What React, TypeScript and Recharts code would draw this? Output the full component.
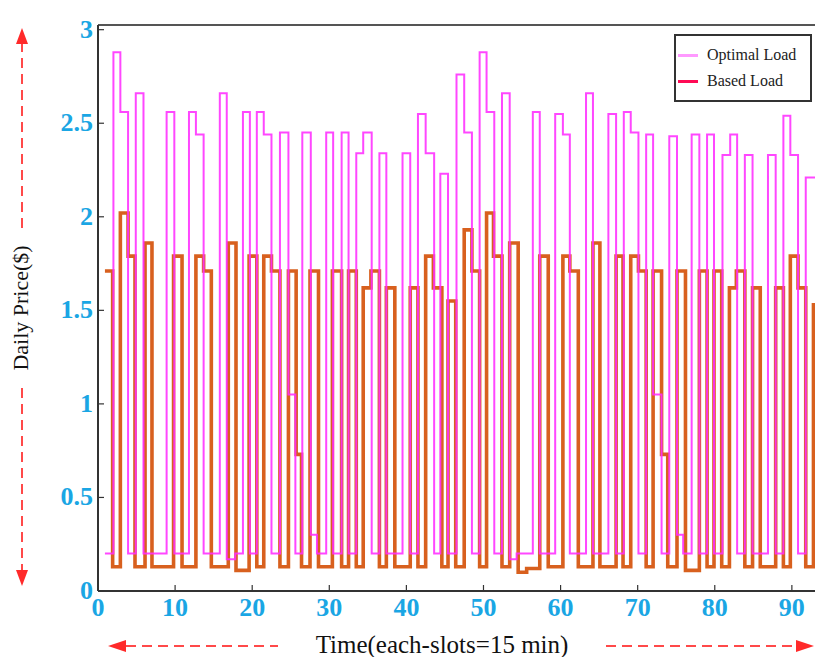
import React from "react";
import { LineChart, Line, XAxis, YAxis, ReferenceLine } from "recharts";

// step series: time slot where a level starts, and the level
const optimalTimes = [
  0.9, 2.0, 2.9, 3.9, 4.9, 5.9, 8.9, 9.9, 11.8, 12.7,
  13.7, 15.8, 16.7, 17.8, 18.8, 19.7, 20.6, 21.5, 22.5, 23.6,
  24.7, 25.6, 26.5, 27.6, 28.4, 29.6, 30.5, 31.6, 32.5, 33.5,
  34.4, 35.5, 36.5, 37.4, 39.5, 40.5, 41.5, 42.5, 43.6, 44.4,
  45.4, 46.5, 47.5, 48.5, 49.5, 50.4, 51.4, 52.4, 53.4, 54.3,
  56.4, 57.3, 59.3, 60.3, 61.2, 63.3, 64.2, 66.2, 67.2, 68.2,
  69.1, 70.1, 71.1, 72.0, 73.1, 74.1, 75.1, 75.9, 77.0, 78.0,
  79.0, 79.9, 81.0, 82.0, 82.9, 83.9, 84.9, 86.9, 87.9, 88.9,
  89.8, 90.8, 91.8, 93,
];
const optimalValues = [
  0.2, 2.88, 2.56, 0.2, 2.66, 0.2, 2.56, 0.2, 2.56, 2.44,
  0.2, 2.66, 0.17, 0.2, 2.56, 0.2, 2.56, 2.44, 0.2, 2.45,
  1.05, 0.2, 2.45, 0.3, 0.2, 2.45, 0.2, 2.45, 0.2, 2.34,
  2.45, 0.2, 2.34, 0.2, 2.34, 0.2, 2.55, 2.34, 0.2, 2.23,
  0.2, 2.76, 2.45, 0.2, 2.88, 2.56, 0.2, 2.66, 0.17, 0.2,
  2.56, 0.2, 2.55, 2.44, 0.2, 2.66, 0.2, 2.55, 0.2, 2.56,
  2.45, 0.2, 2.44, 1.05, 0.2, 2.43, 0.3, 0.2, 2.44, 0.2,
  2.44, 0.2, 2.33, 2.44, 0.2, 2.33, 0.2, 2.33, 0.2, 2.54,
  2.33, 0.2, 2.21, 2.21,
];

const basedTimes = [
  0.9, 1.9, 2.9, 3.9, 4.8, 6.1, 7.0, 9.8, 10.9, 12.7,
  13.7, 14.7, 16.9, 17.9, 19.6, 20.6, 21.5, 22.5, 23.6, 24.7,
  25.7, 26.4, 27.5, 28.6, 30.4, 31.6, 32.5, 33.5, 34.4, 35.4,
  36.5, 37.4, 38.5, 40.5, 41.5, 42.5, 43.5, 44.6, 45.4, 46.4,
  47.5, 48.5, 49.5, 50.4, 51.3, 52.4, 53.4, 54.5, 55.6, 57.3,
  58.4, 60.3, 61.2, 62.3, 64.2, 65.1, 67.2, 68.1, 69.1, 70.1,
  71.1, 72.0, 73.1, 73.9, 75.1, 76.2, 78.0, 79.0, 79.9, 80.9,
  81.9, 82.8, 83.9, 84.9, 85.9, 87.9, 88.9, 89.8, 90.8, 91.8,
  92.8, 93,
];
const basedValues = [
  1.71, 0.13, 2.02, 1.79, 0.13, 1.86, 0.13, 1.79, 0.13, 1.79,
  1.71, 0.13, 1.86, 0.11, 1.79, 0.13, 1.79, 1.71, 0.13, 1.71,
  0.73, 0.13, 1.71, 0.13, 1.71, 0.13, 1.71, 0.13, 1.62, 1.71,
  0.13, 1.62, 0.13, 1.62, 0.13, 1.79, 1.62, 0.13, 1.55, 0.13,
  1.93, 1.71, 0.13, 2.02, 1.79, 0.13, 1.86, 0.1, 0.12, 1.79,
  0.13, 1.79, 1.71, 0.13, 1.86, 0.13, 1.79, 0.13, 1.79, 1.71,
  0.13, 1.71, 0.73, 0.13, 1.71, 0.11, 1.71, 0.13, 1.71, 0.13,
  1.62, 1.71, 0.13, 1.62, 0.13, 1.62, 0.13, 1.79, 1.62, 0.13,
  1.53, 1.53,
];

const xTicks = [0, 10, 20, 30, 40, 50, 60, 70, 80, 90];
const yTicks = [0, 0.5, 1, 1.5, 2, 2.5, 3];

const optimalData = optimalTimes.map((t, i) => ({ t, v: optimalValues[i] }));
const basedData = basedTimes.map((t, i) => ({ t, v: basedValues[i] }));

const W = 815;
const H = 657;
const PLOT_LEFT = 98;
const PLOT_TOP = 25;
const PLOT_BOTTOM = 591;
const TICK_COLOR = "#1aa6e4";
const SERIF = "'Liberation Serif', 'DejaVu Serif', serif";

const OPTIMAL_COLOR = "#ff2eff";
const BASED_COLOR = "#d8601e";

function YTick({ y, payload }: any) {
  return (
    <g>
      <line x1={PLOT_LEFT} x2={PLOT_LEFT + 6} y1={y} y2={y} stroke="#333" strokeWidth={1.2} />
      <text x={93} y={y} dy={8} textAnchor="end" fill={TICK_COLOR} fontFamily={SERIF} fontWeight="bold" fontSize={26}>
        {payload.value}
      </text>
    </g>
  );
}

function XTick({ x, payload }: any) {
  return (
    <g>
      {payload.value !== 0 && <line x1={x} x2={x} y1={PLOT_BOTTOM} y2={PLOT_BOTTOM - 6} stroke="#333" strokeWidth={1.2} />}
      <text x={x} y={616} textAnchor="middle" fill={TICK_COLOR} fontFamily={SERIF} fontWeight="bold" fontSize={26}>
        {payload.value}
      </text>
    </g>
  );
}

function LegendBox() {
  const rows = [
    { label: "Optimal Load", color: "#ff99ff" },
    { label: "Based Load", color: "#ff0a55" },
  ];
  return (
    <div
      style={{
        position: "absolute",
        left: 674,
        top: 34,
        width: 138,
        border: "2px solid #333",
        background: "#fff",
        padding: "6px 0",
        boxSizing: "border-box",
      }}
    >
      {rows.map((r) => (
        <div key={r.label} style={{ display: "flex", alignItems: "center", height: 26 }}>
          <div style={{ width: 20, height: 3, background: r.color, marginLeft: 2, marginRight: 9 }} />
          <span style={{ fontFamily: SERIF, fontSize: 16, color: "#222" }}>{r.label}</span>
        </div>
      ))}
    </div>
  );
}

function Decorations() {
  const red = "#ff2a2a";
  const dash = "10 6";
  return (
    <svg width={W} height={H} style={{ position: "absolute", left: 0, top: 0, pointerEvents: "none" }}>
      <line x1={22} y1={42} x2={22} y2={228} stroke={red} strokeWidth={2} strokeDasharray={dash} opacity={0.85} />
      <polygon points="22,28 16,44 28,44" fill={red} />
      <line x1={22} y1={388} x2={22} y2={570} stroke={red} strokeWidth={2} strokeDasharray={dash} opacity={0.85} />
      <polygon points="22,586 16,570 28,570" fill={red} />
      <text x={28} y={308} transform="rotate(-90 28 308)" textAnchor="middle" fontFamily={SERIF} fontSize={22} fill="#111">
        Daily Price($)
      </text>
      <polygon points="108,646 126,640 126,652" fill={red} />
      <line x1={126} y1={646} x2={278} y2={646} stroke={red} strokeWidth={2} strokeDasharray={dash} opacity={0.85} />
      <line x1={606} y1={646} x2={796} y2={646} stroke={red} strokeWidth={2} strokeDasharray={dash} opacity={0.85} />
      <polygon points="814,646 796,640 796,652" fill={red} />
      <text x={442} y={653} textAnchor="middle" fontFamily={SERIF} fontSize={25} fill="#111">
        Time(each-slots=15 min)
      </text>
    </svg>
  );
}

export default function App() {
  return (
    <div style={{ position: "absolute", left: 0, top: 0, width: W, height: H, background: "#fff" }}>
      <LineChart width={W} height={H} margin={{ top: PLOT_TOP, right: 0, bottom: 0, left: 0 }}>
        <XAxis
          type="number"
          dataKey="t"
          domain={[0, 93]}
          ticks={xTicks}
          interval={0}
          height={H - PLOT_BOTTOM}
          tick={<XTick />}
          tickLine={false}
          axisLine={{ stroke: "#333", strokeWidth: 2 }}
          allowDataOverflow
        />
        <YAxis
          type="number"
          domain={[0, 3.025]}
          ticks={yTicks}
          interval={0}
          width={PLOT_LEFT}
          tick={<YTick />}
          tickLine={false}
          axisLine={{ stroke: "#333", strokeWidth: 2 }}
          allowDataOverflow
        />
        <ReferenceLine y={3.025} stroke="#555" strokeWidth={2} />
        <Line
          data={basedData}
          dataKey="v"
          name="Based Load"
          type="stepAfter"
          stroke={BASED_COLOR}
          strokeWidth={3.6}
          dot={false}
          isAnimationActive={false}
        />
        <Line
          data={optimalData}
          dataKey="v"
          name="Optimal Load"
          type="stepAfter"
          stroke={OPTIMAL_COLOR}
          strokeWidth={2}
          strokeOpacity={0.88}
          dot={false}
          isAnimationActive={false}
        />
      </LineChart>
      <LegendBox />
      <Decorations />
    </div>
  );
}
